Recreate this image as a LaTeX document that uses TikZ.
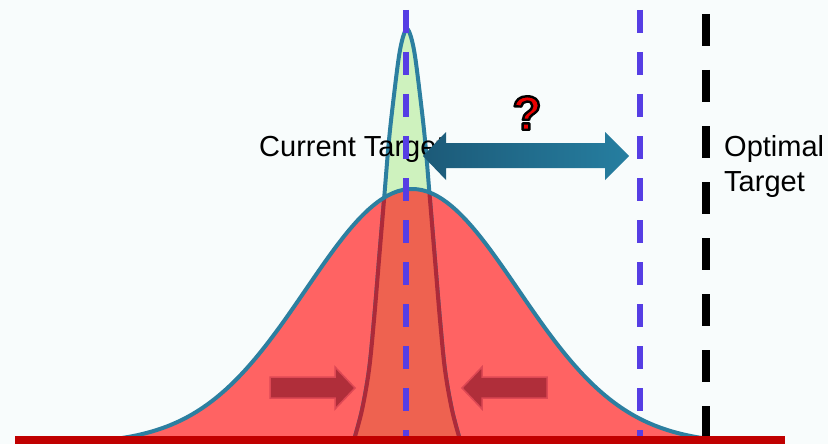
\documentclass[tikz,border=0pt]{standalone}
\usepackage{fontspec}
\setmainfont{Liberation Sans}
\definecolor{bgcol}{RGB}{248,252,252}
\definecolor{bigred}{RGB}{255,99,99}
\definecolor{tealline}{RGB}{44,127,160}
\definecolor{spikegreen}{RGB}{206,242,190}
\definecolor{innerred}{RGB}{238,98,80}
\definecolor{spikeedge}{RGB}{172,42,58}
\definecolor{targetblue}{RGB}{86,62,228}
\definecolor{basered}{RGB}{192,0,0}
\definecolor{squeezered}{RGB}{176,46,58}
\definecolor{squeezeedge}{RGB}{222,72,84}
\definecolor{arrowdark}{RGB}{28,90,120}
\definecolor{arrowlight}{RGB}{38,126,160}
\definecolor{qred}{RGB}{235,0,0}
\usetikzlibrary{arrows.meta,positioning}
% red glyph with black rim
\newcommand\rimtext[1]{\special{pdf:literal direct 2 Tr 2.4 w 0 G 1 j}#1\special{pdf:literal direct 0 Tr}}

\begin{document}
\begin{tikzpicture}[x=1pt, y=-1pt,
  declare function={bell(\x)=438-249*(exp(-0.5*((\x-412)/106)^2)-0.0237)/0.9763;},
  bellline/.style={draw=tealline, line width=4pt, line join=round},
  spike/.style={line width=4pt, line join=round},
  targetline/.style={draw=targetblue, line width=6.5pt, dash pattern=on 23pt off 19pt},
  optline/.style={draw=black, line width=8pt, dash pattern=on 32pt off 24pt},
  tgtlabel/.style={font=\fontsize{29}{35}\selectfont, inner sep=0pt, align=left},
  squeeze/.style={fill=squeezered, draw=squeezeedge, line width=1.5pt}]

\fill[bgcol] (0,0) rectangle (828,444);
\useasboundingbox (0,0) rectangle (828,444);

% Wide distribution
\fill[bigred] (122,440) -- plot[domain=122:702, samples=120] (\x, {bell(\x)}) -- (702,440) -- cycle;

% Narrow distribution
\filldraw[spike, fill=spikegreen, draw=tealline] plot[smooth, tension=0.55] coordinates {(354,440)
  (362,410) (369,370) (374,320) (379,260) (384,200) (389,140) (394,95) (399,56) (403,37)
  (407,29) (411,37) (415,56) (420,95) (425,140) (430,200) (435,260) (440,320) (445,370)
  (452,410) (460,440)} -- cycle;
\begin{scope}
  \clip (122,450) -- plot[domain=122:702, samples=120] (\x, {bell(\x)}) -- (702,450) -- cycle;
  \filldraw[spike, fill=innerred, draw=spikeedge] plot[smooth, tension=0.55] coordinates {(354,440)
    (362,410) (369,370) (374,320) (379,260) (384,200) (389,140) (394,95) (399,56) (403,37)
    (407,29) (411,37) (415,56) (420,95) (425,140) (430,200) (435,260) (440,320) (445,370)
    (452,410) (460,440)} -- cycle;
\end{scope}
\draw[bellline] plot[domain=118:702, samples=120] (\x, {bell(\x)});

% Squeeze arrows
\filldraw[squeeze] (270,377) -- (335,377) -- (335,367) -- (355,388) -- (335,409) -- (335,398) -- (270,398) -- cycle;
\filldraw[squeeze] (547,377) -- (482,377) -- (482,367) -- (462,388) -- (482,409) -- (482,398) -- (547,398) -- cycle;

% Labels
\node[tgtlabel, anchor=base west] (current) at (259,157) {Current Target};
\node[tgtlabel, anchor=north west] (optimal) at (724,135) {Optimal\\Target};

% Target lines
\draw[targetline] (406,10) -- (406,438);
\draw[targetline] (640,10) -- (640,438);
\draw[optline] (706,14) -- (706,437);

% Gap arrow
\shade[left color=arrowdark, right color=arrowlight] (423,156) -- (446,132) -- (446,143)
  -- (605,143) -- (605,132) -- (629,156) -- (605,180) -- (605,168) -- (446,168)
  -- (446,180) -- cycle;
\node[font=\fontsize{48}{48}\selectfont\bfseries, text=qred] (gap) at (527,113) {\rimtext{?}};

% Axis
\fill[basered] (15,436) rectangle (785,444);

\end{tikzpicture}
\end{document}
